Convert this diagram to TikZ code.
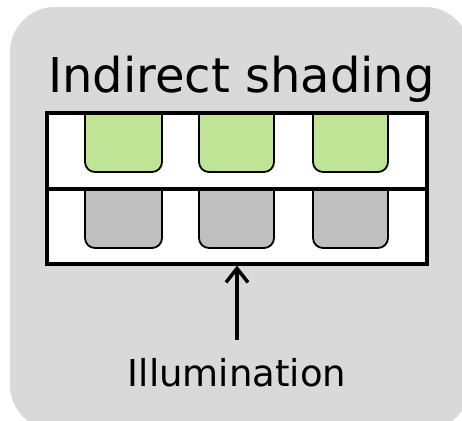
\documentclass[tikz,border=0pt]{standalone}
\usepackage{fontspec}
\setmainfont{DejaVu Sans}
\usetikzlibrary{arrows.meta}
\definecolor{bggray}{RGB}{217,217,217}
\definecolor{wellgray}{RGB}{191,191,191}
\definecolor{wellgreen}{RGB}{192,228,150}
\tikzset{
  wellbox/.style={draw=black, line width=1.8pt, rounded corners=10pt},
  platebox/.style={draw=black, line width=3.2pt},
  titletext/.style={anchor=base, inner sep=0pt, font=\fontsize{48}{58}\selectfont},
  labeltext/.style={anchor=base, inner sep=0pt, font=\fontsize{37}{44}\selectfont},
  lightarrow/.style={line width=3.5pt, -{Straight Barb[length=14pt,width=22pt,line width=3.5pt]}}
}
\begin{document}
\begin{tikzpicture}[x=1pt,y=-1pt]
\useasboundingbox (0,0) rectangle (462,420);
\begin{scope}
\clip (0,0) rectangle (462,420);
\fill[bggray, rounded corners=45pt] (10,7) rectangle (470,430);
\end{scope}
\node[titletext] (title) at (241.5,92) {Indirect shading};
% plate sections
\fill[white] (47,113) rectangle (427,264);
\begin{scope}
\clip (47,113) rectangle (427,189);
\foreach \xa/\xb in {85/162,199/274,313/388}
  \filldraw[wellbox, fill=wellgreen] (\xa,100) rectangle (\xb,172);
\end{scope}
\begin{scope}
\clip (47,189) rectangle (427,264);
\foreach \xa/\xb in {85/162,199/274,313/388}
  \filldraw[wellbox, fill=wellgray] (\xa,176) rectangle (\xb,248);
\end{scope}
\node[platebox, minimum width=380pt, minimum height=151pt, inner sep=0pt] (plate) at (237,188.5) {};
\coordinate (divl) at (47,189);
\coordinate (divr) at (427,189);
\draw[platebox] (divl) -- (divr);
\node[labeltext] (illum) at (237,386) {Illumination};
\coordinate (arrowstart) at (237,340);
\draw[lightarrow] (arrowstart) -- (plate.south);
\end{tikzpicture}
\end{document}
